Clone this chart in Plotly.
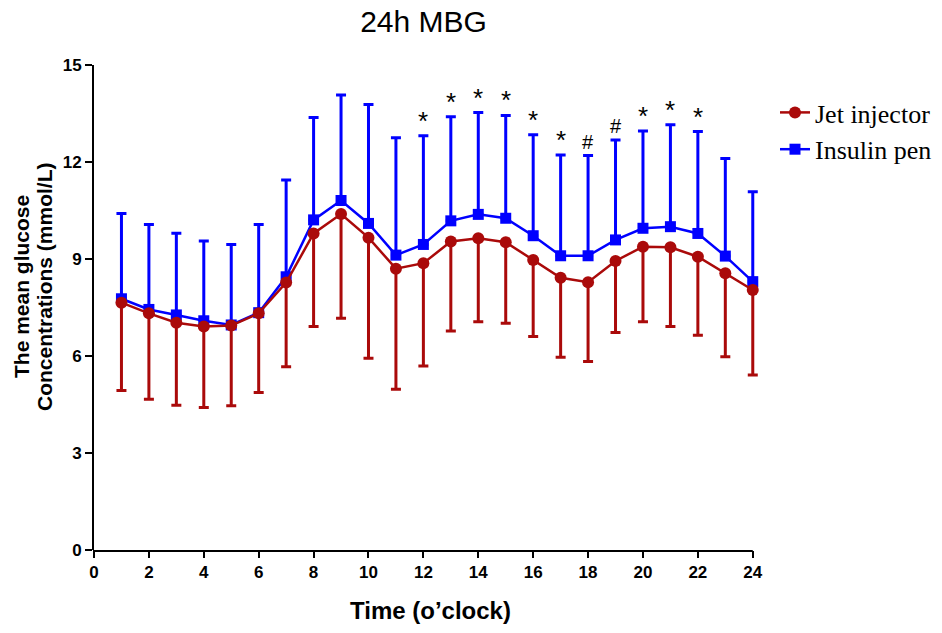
import plotly.graph_objects as go

hours = list(range(1, 25))

jet_mean = [7.65, 7.32, 7.03, 6.91, 6.94, 7.32, 8.27, 9.79, 10.39, 9.66, 8.70, 8.87,
            9.54, 9.64, 9.52, 8.97, 8.42, 8.28, 8.94, 9.38, 9.36, 9.07, 8.56, 8.04]
jet_sd = [2.72, 2.66, 2.55, 2.50, 2.48, 2.45, 2.60, 2.88, 3.22, 3.73, 3.73, 3.18,
          2.77, 2.58, 2.51, 2.37, 2.46, 2.45, 2.21, 2.32, 2.45, 2.43, 2.58, 2.63]

pen_mean = [7.77, 7.44, 7.27, 7.09, 6.96, 7.34, 8.45, 10.21, 10.81, 10.10, 9.12, 9.45,
            10.18, 10.38, 10.26, 9.72, 9.10, 9.10, 9.59, 9.95, 10.00, 9.79, 9.09, 8.30]
pen_sd = [2.64, 2.63, 2.53, 2.47, 2.49, 2.73, 2.99, 3.17, 3.26, 3.68, 3.63, 3.36,
          3.22, 3.15, 3.18, 3.12, 3.12, 3.10, 3.09, 3.01, 3.15, 3.15, 3.02, 2.78]

sig_marks = {12: "*", 13: "*", 14: "*", 15: "*", 16: "*", 17: "*", 18: "#",
             19: "#", 20: "*", 21: "*", 22: "*"}

x_ticks = list(range(0, 25, 2))
y_ticks = [0, 3, 6, 9, 12, 15]
X_MAX = 24
X_PAD = 0.3  # room so the last error bar is not clipped

RED = "#AA0A0A"
BLUE = "#0000FF"

# the page body has an 8px margin; size the figure so the axes land
# at x 94 (x=0) .. 753 (x=24), y 65..550 of the window
BODY = 8
W, H = 942 - BODY, 633 - BODY
AX_L, AX_R, AX_T, AX_B = 94, 753, 65, 550
PW = (AX_R - AX_L) * (X_MAX + X_PAD) / X_MAX
PH = AX_B - AX_T
ML, MT = AX_L - BODY, AX_T - BODY
MR = W - ML - PW
MB = H - MT - PH


def px_x(p):
    return (p - AX_L) / PW


def px_y(p):
    return (AX_B - p) / PH


fig = go.Figure()

fig.add_trace(go.Scatter(
    x=hours, y=pen_mean, name="Insulin pen", mode="lines+markers",
    line=dict(color=BLUE, width=2.5),
    marker=dict(symbol="square", size=11, color=BLUE),
    error_y=dict(type="data", symmetric=False, array=pen_sd,
                 arrayminus=[0] * len(pen_sd), color=BLUE, thickness=3, width=5),
    cliponaxis=False, legendrank=2,
))
fig.add_trace(go.Scatter(
    x=hours, y=jet_mean, name="Jet injector", mode="lines+markers",
    line=dict(color=RED, width=2.5),
    marker=dict(symbol="circle", size=12, color=RED),
    error_y=dict(type="data", symmetric=False, array=[0] * len(jet_sd),
                 arrayminus=jet_sd, color=RED, thickness=3, width=5),
    cliponaxis=False, legendrank=1,
))

for h, mark in sig_marks.items():
    i = hours.index(h)
    top = pen_mean[i] + pen_sd[i]
    fig.add_annotation(
        x=h, y=top, text=mark, showarrow=False, xref="x", yref="y",
        yanchor="bottom", yshift=-2 if mark == "*" else 1,
        font=dict(family="Liberation Sans, Arial", size=26 if mark == "*" else 20,
                  color="black"),
    )

# bottom axis line, ending exactly at x = 24
fig.add_shape(type="line", xref="paper", yref="paper", x0=px_x(AX_L - 1), x1=px_x(AX_R),
              y0=-0.002, y1=-0.002, line=dict(color="black", width=2))

# axis titles
fig.add_annotation(text="<b>Time (o\u2019clock)</b>", xref="paper", yref="paper",
                   x=px_x(431), y=px_y(610), xanchor="center", yanchor="middle",
                   showarrow=False,
                   font=dict(family="Liberation Sans, Arial", size=24, color="black"))
for line_text, cx in [("The mean glucose", 21), ("Concentrations (mmol/L)", 44)]:
    fig.add_annotation(text=f"<b>{line_text}</b>",
                       xref="paper", yref="paper", x=px_x(cx), y=px_y(287),
                       xanchor="center", yanchor="middle", textangle=-90, showarrow=False,
                       font=dict(family="Liberation Sans, Arial", size=21, color="black"))

# fragment of cropped text at the top-left corner
fig.add_annotation(text="<b>g</b>", xref="paper", yref="paper",
                   x=px_x(67), y=px_y(5), xanchor="center", yanchor="bottom",
                   showarrow=False,
                   font=dict(family="Liberation Sans, Arial", size=28, color="black"))

axis_font = dict(family="Liberation Sans, Arial", size=17, color="black")
fig.update_layout(
    width=W, height=H,
    margin=dict(l=ML, r=MR, t=MT, b=MB),
    paper_bgcolor="white", plot_bgcolor="white",
    title=dict(text="24h MBG", x=(423.5 - BODY) / W, xanchor="center",
               y=1 - (21 - BODY) / H, yanchor="middle",
               font=dict(family="Liberation Sans, Arial", size=30, color="black")),
    legend=dict(xref="container", yref="container",
                x=(775 - BODY) / W, y=1 - (89 - BODY) / H, xanchor="left", yanchor="top",
                font=dict(family="Liberation Serif, Times New Roman", size=26, color="black"),
                bgcolor="rgba(0,0,0,0)", itemwidth=30, tracegroupgap=0),
    showlegend=True,
)
fig.update_xaxes(
    range=[0, X_MAX + X_PAD], tickvals=x_ticks, ticktext=[f"<b>{t}</b>" for t in x_ticks],
    showline=False, showgrid=False, zeroline=False, automargin=False,
    ticks="outside", ticklen=7, tickwidth=2, tickcolor="black", tickfont=axis_font,
)
fig.update_yaxes(
    range=[0, 15], tickvals=y_ticks, ticktext=[f"<b>{t}</b>" for t in y_ticks],
    showline=True, linecolor="black", linewidth=2, showgrid=False, zeroline=False,
    automargin=False,
    ticks="outside", ticklen=7, tickwidth=2, tickcolor="black", tickfont=axis_font,
)

fig.write_html("out.html")
